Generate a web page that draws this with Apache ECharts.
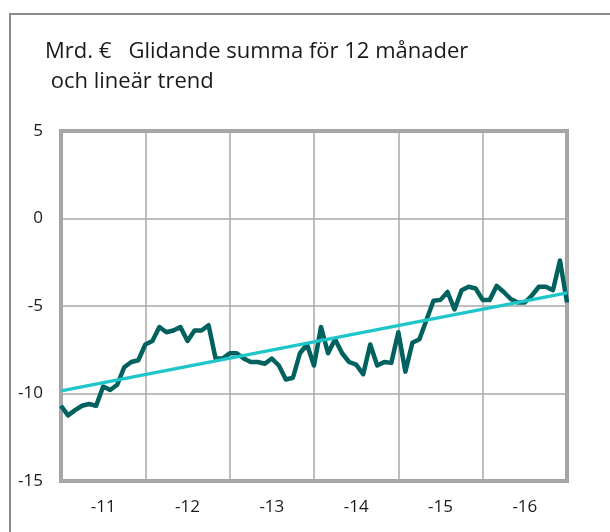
<!DOCTYPE html>
<html>
<head>
<meta charset="utf-8">
<script src="https://cdn.jsdelivr.net/npm/echarts@6/dist/echarts.min.js"></script>
<style>
html, body { margin: 0; padding: 0; background: #fff; }
#chart { width: 610px; height: 532px; }
</style>
</head>
<body>
<div id="chart"></div>
<script>
// månader från jan -11 (index 0) till jan -17 (index 72)
var yearLabels = ['-11', '-12', '-13', '-14', '-15', '-16'];
var yTicks = [-15, -10, -5, 0, 5];

// glidande summa för 12 månader, Mrd. €
var glidandeSumma = [
	-10.7, -11.25, -10.95, -10.7, -10.6, -10.7, -9.6, -9.8, -9.5, -8.5, -8.2, -8.1,
	-7.2, -7.0, -6.2, -6.5, -6.4, -6.2, -7.0, -6.4, -6.4, -6.1, -8.0, -8.0,
	-7.7, -7.7, -8.0, -8.2, -8.2, -8.3, -8.0, -8.4, -9.2, -9.1, -7.7, -7.2,
	-8.4, -6.2, -7.7, -6.9, -7.7, -8.2, -8.35, -8.9, -7.2, -8.4, -8.2, -8.25,
	-6.5, -8.75, -7.1, -6.9, -5.8, -4.7, -4.65, -4.2, -5.2, -4.1, -3.9, -4.0,
	-4.65, -4.65, -3.85, -4.2, -4.6, -4.8, -4.8, -4.4, -3.9, -3.9, -4.1, -2.4,
	-4.8
];
// linjär trend, början och slut
var trendStart = -9.85;
var trendEnd = -4.25;

var seriesData = glidandeSumma.map(function (v, i) { return [i, v]; });
var trendData = [[0, trendStart], [glidandeSumma.length - 1, trendEnd]];

var myChart = echarts.init(document.getElementById('chart'));
var font = '"Open Sans", "Noto Sans", sans-serif';
var option = {
	animation: false,
	title: {
		text: 'Mrd. €   Glidande summa för 12 månader\n och lineär trend',
		left: 40,
		top: 32,
		textStyle: {
			fontFamily: font,
			fontWeight: 'normal',
			fontSize: 22,
			lineHeight: 30,
			color: '#1a1a1a'
		}
	},
	graphic: [
		{
			type: 'polyline',
			shape: { points: [[10, 532], [10, 14], [610, 14]] },
			style: { stroke: '#8c8c8c', lineWidth: 2, fill: null },
			silent: true
		}
	],
	grid: {
		left: 61,
		right: 43,
		top: 131,
		bottom: 51,
		show: true,
		borderColor: '#a3a3a6',
		borderWidth: 4
	},
	xAxis: [
		{
			type: 'value',
			min: 0,
			max: 72,
			interval: 12,
			axisLine: { show: false },
			axisTick: { show: false },
			axisLabel: { show: false },
			splitLine: { show: true, lineStyle: { color: '#a8a8a8', width: 1.5 } }
		},
		{
			type: 'value',
			min: 0,
			max: 72,
			interval: 6,
			position: 'bottom',
			axisLine: { show: false },
			axisTick: { show: false },
			splitLine: { show: false },
			axisLabel: {
				margin: 18,
				fontFamily: font,
				fontSize: 17,
				color: '#1a1a1a',
				formatter: function (v) {
					if (v % 12 === 6) return yearLabels[(v - 6) / 12];
					return '';
				}
			}
		}
	],
	yAxis: {
		type: 'value',
		min: yTicks[0],
		max: yTicks[yTicks.length - 1],
		interval: 5,
		axisLine: { show: false },
		axisTick: { show: false },
		axisLabel: {
			margin: 18,
			fontFamily: font,
			fontSize: 17,
			color: '#1a1a1a'
		},
		splitLine: { show: true, lineStyle: { color: '#a8a8a8', width: 1.5 } }
	},
	series: [
		{
			type: 'line',
			data: seriesData,
			symbol: 'none',
			lineStyle: { color: '#00615e', width: 4.5, join: 'round' },
			z: 3
		},
		{
			type: 'line',
			data: trendData,
			symbol: 'none',
			lineStyle: { color: '#1fc6c9', width: 3.5 },
			z: 4
		}
	]
};
myChart.setOption(option);
window.onresize = myChart.resize;
</script>
</body>
</html>
